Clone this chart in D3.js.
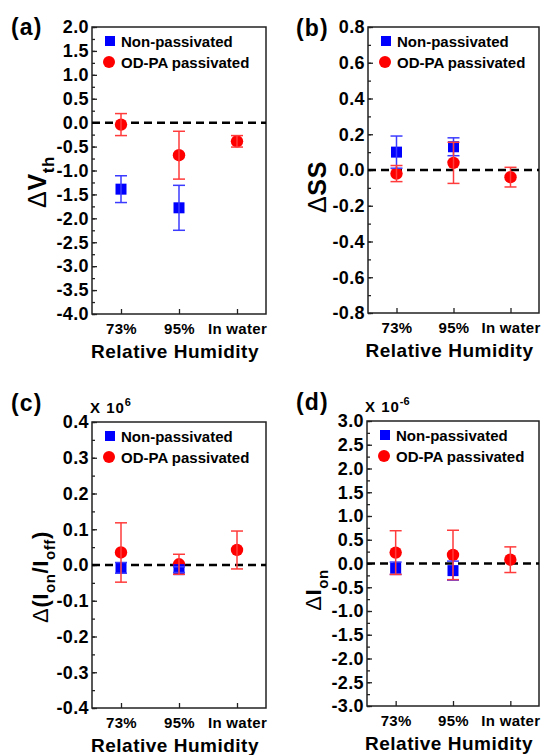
<!DOCTYPE html>
<html>
<head>
<meta charset="utf-8">
<script src="https://cdn.jsdelivr.net/npm/d3@7"></script>
<style>
  body { margin: 0; background: #fff; }
  svg text { font-family: "Liberation Sans", Arial, sans-serif; font-weight: bold; fill: #000; }
</style>
</head>
<body>
<svg id="chart" width="541" height="755"></svg>
<script>
// values
var categories = ["73%", "95%", "In water"];

var vthNon = [-1.39, -1.78, null];
var vthNonErr = [0.28, 0.47, null];
var vthOd = [-0.04, -0.68, -0.39];
var vthOdErr = [0.23, 0.50, 0.12];

var ssNon = [0.10, 0.13, null];
var ssNonErr = [0.09, 0.05, null];
var ssOd = [-0.02, 0.04, -0.04];
var ssOdErr = [0.045, 0.115, 0.055];

var ratioNon = [-0.008, -0.013, null];
var ratioNonErr = [0.015, 0.008, null];
var ratioOd = [0.035, 0.002, 0.042];
var ratioOdErr = [0.083, 0.028, 0.053];

var ionNon = [-0.10, -0.15, null];
var ionNonErr = [0.13, 0.20, null];
var ionOd = [0.23, 0.18, 0.08];
var ionOdErr = [0.46, 0.52, 0.27];

var ticksA = d3.range(-4, 2.01, 0.5);
var ticksB = d3.range(-0.8, 0.81, 0.2);
var ticksC = d3.range(-0.4, 0.41, 0.1);
var ticksD = d3.range(-3, 3.01, 0.5);

var legendNames = ["Non-passivated", "OD-PA passivated"];

var blue = "#0000ff", blueBar = "#3b3bff";
var red = "#ff0000", redBar = "#ff3b3b";

var svg = d3.select("#chart");

var panels = [
  { tag: "(a)", tagX: 11, tagY: 35, left: 92, right: 266, top: 27, bottom: 314, ydom: [-4, 2], ticks: ticksA, minor: 0.25,
    non: vthNon, nonErr: vthNonErr, od: vthOd, odErr: vthOdErr,
    ylab: "vth", ylabX: 46, ylabY: 182, ylabSize: 25, mult: null },
  { tag: "(b)", tagX: 296, tagY: 36, left: 368, right: 539, top: 27, bottom: 313, ydom: [-0.8, 0.8], ticks: ticksB, minor: 0.1,
    non: ssNon, nonErr: ssNonErr, od: ssOd, odErr: ssOdErr,
    ylab: "ss", ylabX: 326, ylabY: 187, ylabSize: 25, mult: null },
  { tag: "(c)", tagX: 11, tagY: 411, left: 92, right: 266, top: 422, bottom: 708, ydom: [-0.4, 0.4], ticks: ticksC, minor: 0.05,
    non: ratioNon, nonErr: ratioNonErr, od: ratioOd, odErr: ratioOdErr,
    ylab: "ratio", ylabX: 48, ylabY: 577, ylabSize: 22, mult: "6" },
  { tag: "(d)", tagX: 296, tagY: 410, left: 367, right: 539, top: 421, bottom: 706, ydom: [-3, 3], ticks: ticksD, minor: 0.25,
    non: ionNon, nonErr: ionNonErr, od: ionOd, odErr: ionOdErr,
    ylab: "ion", ylabX: 321, ylabY: 590, ylabSize: 22, mult: "-6" }
];

function fmtTick(v) {
  var s = d3.format(".1f")(Math.abs(v) < 1e-9 ? 0 : v);
  return s.replace("−", "-");
}

panels.forEach(function (p) {
  var g = svg.append("g");
  var x = d3.scalePoint().domain(categories).range([p.left, p.right]).padding(0.5);
  var y = d3.scaleLinear().domain(p.ydom).range([p.bottom, p.top]);

  // minor y ticks
  var minorVals = d3.range(p.ydom[0], p.ydom[1] + 1e-9, p.minor);
  g.append("g")
    .attr("transform", "translate(" + p.left + ",0)")
    .call(d3.axisLeft(y).tickValues(minorVals).tickSize(-3).tickFormat(""))
    .call(function (a) { a.select(".domain").remove(); a.selectAll("line").attr("stroke", "#222").attr("stroke-width", 1.3); });

  // major y ticks
  g.append("g")
    .attr("transform", "translate(" + p.left + ",0)")
    .call(d3.axisLeft(y).tickValues(p.ticks).tickSize(-5).tickPadding(3).tickFormat(fmtTick))
    .call(function (a) {
      a.select(".domain").remove();
      a.selectAll("line").attr("stroke", "#222").attr("stroke-width", 1.3);
      a.selectAll("text").style("font-size", "18px").style("letter-spacing", "0.4px").attr("fill", "#000");
    });

  // category axis
  g.append("g")
    .attr("transform", "translate(0," + p.bottom + ")")
    .call(d3.axisBottom(x).tickSize(-5).tickPadding(9))
    .call(function (a) {
      a.select(".domain").remove();
      a.selectAll("line").attr("stroke", "#222").attr("stroke-width", 1.3);
      a.selectAll("text").style("font-size", "15px").style("letter-spacing", "0.3px").attr("fill", "#000");
    });

  // frame
  g.append("rect")
    .attr("x", p.left).attr("y", p.top)
    .attr("width", p.right - p.left).attr("height", p.bottom - p.top)
    .attr("fill", "none").attr("stroke", "#222").attr("stroke-width", 1.5);

  // zero reference line
  g.append("line")
    .attr("x1", p.left).attr("x2", p.right)
    .attr("y1", y(0)).attr("y2", y(0))
    .attr("stroke", "#000").attr("stroke-width", 2.5)
    .attr("stroke-dasharray", "8,5");

  var non = categories.map(function (c, i) { return { c: c, v: p.non[i], e: p.nonErr[i] }; })
    .filter(function (d) { return d.v != null; });
  var od = categories.map(function (c, i) { return { c: c, v: p.od[i], e: p.odErr[i] }; });

  // markers
  g.selectAll(".od").data(od).enter().append("circle")
    .attr("cx", function (d) { return x(d.c); })
    .attr("cy", function (d) { return y(d.v); })
    .attr("r", 6.2).attr("fill", red);
  g.selectAll(".non").data(non).enter().append("rect")
    .attr("x", function (d) { return x(d.c) - 5.5; })
    .attr("y", function (d) { return y(d.v) - 5.5; })
    .attr("width", 11).attr("height", 11).attr("fill", blue);

  function errBars(data, col) {
    var eg = g.append("g").attr("stroke", col).attr("stroke-width", 1.5).attr("fill", "none");
    data.forEach(function (d) {
      var cx = x(d.c);
      eg.append("line").attr("x1", cx).attr("x2", cx).attr("y1", y(d.v + d.e)).attr("y2", y(d.v - d.e));
      [d.v + d.e, d.v - d.e].forEach(function (v) {
        eg.append("line").attr("x1", cx - 6).attr("x2", cx + 6).attr("y1", y(v)).attr("y2", y(v));
      });
    });
  }
  errBars(non, blueBar);
  errBars(od, redBar);

  // legend
  var lx = p.left + 18, ly = p.top + 14;
  g.append("rect").attr("x", lx - 5).attr("y", ly - 5).attr("width", 10).attr("height", 10).attr("fill", blue);
  g.append("circle").attr("cx", lx - 1).attr("cy", ly + 21).attr("r", 6).attr("fill", red);
  g.append("text").attr("x", lx + 11).attr("y", ly + 5.5).style("font-size", "15px").text(legendNames[0]);
  g.append("text").attr("x", lx + 11).attr("y", ly + 26.5).style("font-size", "15px").text(legendNames[1]);

  // panel tag
  svg.append("text").attr("x", p.tagX).attr("y", p.tagY)
    .style("font-size", "23px").style("letter-spacing", "1.2px").text(p.tag);

  // x title
  svg.append("text").attr("x", (p.left + p.right) / 2 - 4).attr("y", p.bottom + 44)
    .attr("text-anchor", "middle").style("font-size", "19px").style("letter-spacing", "0.5px")
    .text("Relative Humidity");

  // multiplier
  if (p.mult) {
    var m = svg.append("text").attr("x", p.left - 2).attr("y", p.top - 9)
      .style("font-size", "15px").style("letter-spacing", "1px");
    m.append("tspan").text("X 10");
    m.append("tspan").attr("dy", -7).style("font-size", "11px").style("letter-spacing", "0px").text(p.mult);
  }

  // y title
  var fs = p.ylabSize, sub = Math.round(fs * 0.66), sh = Math.round(fs * 0.33);
  var t = svg.append("text")
    .attr("transform", "translate(" + p.ylabX + "," + p.ylabY + ") rotate(-90)")
    .attr("text-anchor", "middle").style("font-size", fs + "px").style("letter-spacing", "0.6px");
  t.append("tspan").style("font-weight", "normal").text("Δ");
  if (p.ylab === "vth") {
    t.append("tspan").text("V");
    t.append("tspan").attr("dy", sh).style("font-size", sub + "px").text("th");
  } else if (p.ylab === "ss") {
    t.append("tspan").text("SS");
  } else if (p.ylab === "ratio") {
    t.append("tspan").text("(I");
    t.append("tspan").attr("dy", sh).style("font-size", sub + "px").text("on");
    t.append("tspan").attr("dy", -sh).text("/I");
    t.append("tspan").attr("dy", sh).style("font-size", sub + "px").text("off");
    t.append("tspan").attr("dy", -sh).text(")");
  } else {
    t.append("tspan").text("I");
    t.append("tspan").attr("dy", sh).style("font-size", sub + "px").text("on");
  }
});
</script>
</body>
</html>
